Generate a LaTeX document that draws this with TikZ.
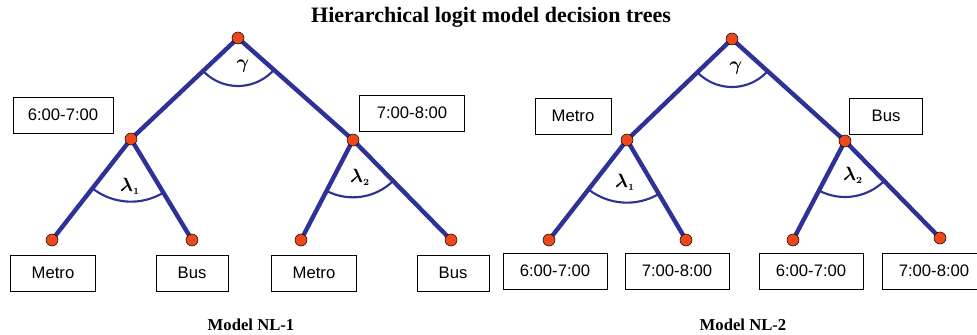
\documentclass[tikz,border=0pt]{standalone}
\usepackage{amsmath}
\usepackage{fontspec}
\setmainfont{Liberation Serif}
\newfontfamily\arial{Liberation Sans}
\usepackage{xcolor}
\usetikzlibrary{angles,backgrounds}
\definecolor{treeblue}{RGB}{46,50,150}
\definecolor{dotred}{RGB}{236,72,28}

\begin{document}
\begin{tikzpicture}[x=0.75pt,y=-0.75pt,
  br/.style={draw=treeblue,line width=3.3pt},
  dot/.style={draw=black,line width=0.4pt,fill=dotred,circle,minimum size=9pt,inner sep=0pt},
  lbl/.style={draw,line width=0.6pt,font=\arial\fontsize{12.5}{14}\selectfont,minimum height=27pt,inner sep=0pt},
  grk/.style={font=\boldmath\fontsize{15}{16}\selectfont},
  ang/.style={draw=treeblue,line width=1.6pt,angle radius=#1}]
  \useasboundingbox (0,0) rectangle (977,335);
  \node[font=\bfseries\fontsize{16.5}{18}\selectfont] (title) at (491,17) {Hierarchical logit model decision trees};

  % Model NL-1
  \node[dot] (r1) at (238,38) {};
  \node[dot] (a1) at (131,139) {};
  \node[dot] (b1) at (353,140) {};
  \node[dot] (a1l) at (52,240) {};
  \node[dot] (a1r) at (192,240) {};
  \node[dot] (b1l) at (301,240) {};
  \node[dot] (b1r) at (451,240) {};
  \begin{scope}[on background layer]
    \draw[br] (a1l.center) -- (a1.center) -- (r1.center) -- (b1.center) -- (b1r.center);
    \draw[br] (a1.center) -- (a1r.center);
    \draw[br] (b1.center) -- (b1l.center);
  \end{scope}
  \pic[ang=36pt] {angle=a1--r1--b1};
  \pic[ang=47pt] {angle=a1l--a1--a1r};
  \pic[ang=43pt] {angle=b1l--b1--b1r};
  \node[lbl,minimum width=75pt] (p1) at (63,115) {6:00-7:00};
  \node[lbl,minimum width=79pt] (q1) at (412,113) {7:00-8:00};
  \node[lbl,minimum width=64pt] (m1) at (53,273) {Metro};
  \node[lbl,minimum width=54pt] (s1) at (192,273) {Bus};
  \node[lbl,minimum width=64pt] (m2) at (314,273) {Metro};
  \node[lbl,minimum width=54pt] (s2) at (453,273) {Bus};
  \node[grk] (g1) at (243,66) {$\gamma$};
  \node[grk] (l1) at (130,186) {$\lambda_{\scriptscriptstyle 1}$};
  \node[grk] (l2) at (360,177) {$\lambda_{\scriptscriptstyle 2}$};
  \node[font=\bfseries\fontsize{12.5}{14}\selectfont] (nl1) at (251,325) {Model NL-1};

  % Model NL-2
  \node[dot] (r2) at (732,39) {};
  \node[dot] (a2) at (627,140) {};
  \node[dot] (b2) at (845,141) {};
  \node[dot] (a2l) at (549,240) {};
  \node[dot] (a2r) at (686,240) {};
  \node[dot] (b2l) at (793,240) {};
  \node[dot] (b2r) at (940,238) {};
  \begin{scope}[on background layer]
    \draw[br] (a2l.center) -- (a2.center) -- (r2.center) -- (b2.center) -- (b2r.center);
    \draw[br] (a2.center) -- (a2r.center);
    \draw[br] (b2.center) -- (b2l.center);
  \end{scope}
  \pic[ang=36pt] {angle=a2--r2--b2};
  \pic[ang=47pt] {angle=a2l--a2--a2r};
  \pic[ang=42pt] {angle=b2l--b2--b2r};
  \node[lbl,minimum width=57pt] (m3) at (573,116) {Metro};
  \node[lbl,minimum width=55pt] (s3) at (886,116) {Bus};
  \node[lbl,minimum width=78pt] (p2) at (555,271) {6:00-7:00};
  \node[lbl,minimum width=78pt] (q2) at (677,271) {7:00-8:00};
  \node[lbl,minimum width=78pt] (p3) at (811,271) {6:00-7:00};
  \node[lbl,minimum width=78pt] (q3) at (934,271) {7:00-8:00};
  \node[grk] (g2) at (736,68) {$\gamma$};
  \node[grk] (l3) at (625,182) {$\lambda_{\scriptscriptstyle 1}$};
  \node[grk] (l4) at (853,175) {$\lambda_{\scriptscriptstyle 2}$};
  \node[font=\bfseries\fontsize{12.5}{14}\selectfont] (nl2) at (743,325) {Model NL-2};
\end{tikzpicture}
\end{document}
